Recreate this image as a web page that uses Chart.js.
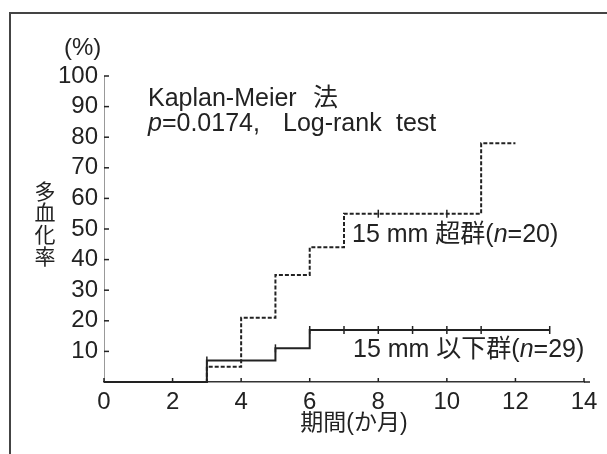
<!DOCTYPE html>
<html>
<head>
<meta charset="utf-8">
<script src="https://cdn.jsdelivr.net/npm/chart.js@4.4.1/dist/chart.umd.min.js"></script>
<style>
  html, body { margin: 0; padding: 0; background: #fff; }
  #wrap { width: 607px; height: 454px; }
</style>
</head>
<body>
<div id="wrap"><canvas id="kmChart" width="607" height="454"></canvas></div>
<script>
// 15 mm 超群 (n=20)
var upperMonths = [0, 3, 4, 5, 6, 7, 11, 12];
var upperRates  = [0, 5, 21, 35, 44, 55, 78, 78];
var upperCensorMonths = [8, 10];
var upperCensorRates  = [55, 55];

// 15 mm 以下群 (n=29)
var lowerMonths = [0, 3, 5, 6, 13];
var lowerRates  = [0, 7, 11, 17, 17];
var lowerCensorMonths = [3, 5, 6, 7, 8, 9, 10, 11, 13];
var lowerCensorRates  = [7, 11, 17, 17, 17, 17, 17, 17, 17];

// 目盛り
var xTicks = [0, 2, 4, 6, 8, 10, 12, 14];
var yTicks = [0, 10, 20, 30, 40, 50, 60, 70, 80, 90, 100];

var FONT = '"Liberation Sans", "Noto Sans CJK JP", sans-serif';
var INK = '#222';

function toPoints(xs, ys) {
    return xs.map(function (x, i) { return { x: x, y: ys[i] }; });
}

// テキストを斜体まじりで描く
function drawRuns(ctx, x, y, runs, size) {
    runs.forEach(function (r) {
        if (r.length > 2) x = r[2];
        ctx.font = (r[1] ? 'italic ' : '') + size + 'px ' + FONT;
        ctx.fillText(r[0], x, y);
        x += ctx.measureText(r[0]).width;
    });
}

var decorations = {
    id: 'decorations',
    beforeDraw: function (chart) {
        var ctx = chart.ctx;
        ctx.save();
        ctx.fillStyle = '#fff';
        ctx.fillRect(0, 0, chart.width, chart.height);
        // 枠
        ctx.strokeStyle = '#444';
        ctx.lineWidth = 2;
        ctx.beginPath();
        ctx.moveTo(10, chart.height);
        ctx.lineTo(10, 13);
        ctx.lineTo(chart.width, 13);
        ctx.stroke();
        ctx.restore();
    },
    afterDraw: function (chart) {
        var ctx = chart.ctx;
        var xs = chart.scales.x, ys = chart.scales.y;
        var area = chart.chartArea;
        ctx.save();
        ctx.strokeStyle = INK;
        ctx.lineWidth = 1.5;
        // x軸を少し右へ延ばす
        ctx.beginPath();
        ctx.moveTo(area.right, area.bottom);
        ctx.lineTo(area.right + 6, area.bottom);
        ctx.stroke();
        // 内向きの目盛り線
        xTicks.forEach(function (v) {
            var px = xs.getPixelForValue(v);
            ctx.beginPath();
            ctx.moveTo(px, area.bottom);
            ctx.lineTo(px, area.bottom - 4);
            ctx.stroke();
        });
        yTicks.forEach(function (v) {
            if (v === 0) return;
            var py = ys.getPixelForValue(v);
            ctx.beginPath();
            ctx.moveTo(area.left, py);
            ctx.lineTo(area.left + 5, py);
            ctx.stroke();
        });

        ctx.fillStyle = INK;
        ctx.textAlign = 'left';
        ctx.textBaseline = 'alphabetic';
        ctx.font = '24px ' + FONT;
        ctx.fillText('(%)', 64, 55);

        drawRuns(ctx, 148, 106, [['Kaplan-Meier', false], ['法', false, 313]], 25);
        drawRuns(ctx, 148, 131, [['p', true], ['=0.0174,', false], ['Log-rank', false, 283], ['test', false, 396]], 25);
        drawRuns(ctx, 352, 242, [['15 mm 超群(', false], ['n', true], ['=20)', false]], 25);
        drawRuns(ctx, 353, 357, [['15 mm 以下群(', false], ['n', true], ['=29)', false]], 25);

        // 軸タイトル
        ctx.textAlign = 'center';
        ctx.textBaseline = 'middle';
        ctx.font = '21px ' + FONT;
        ['多', '血', '化', '率'].forEach(function (ch, i) {
            ctx.fillText(ch, 45, 193 + i * 21.7);
        });
        ctx.font = '23px ' + FONT;
        ctx.fillText('期間(か月)', 354, 424);
        ctx.restore();
    }
};

var kmData = {
    datasets: [
        {
            label: '15 mm 超群',
            data: toPoints(upperMonths, upperRates),
            stepped: true,
            borderColor: INK,
            borderWidth: 2,
            borderDash: [4, 2],
            pointRadius: 0,
            fill: false,
            clip: false
        },
        {
            label: '15 mm 以下群',
            data: toPoints(lowerMonths, lowerRates),
            stepped: true,
            borderColor: INK,
            borderWidth: 2,
            pointRadius: 0,
            fill: false,
            clip: false
        },
        {
            label: '打ち切り(超群)',
            data: toPoints(upperCensorMonths, upperCensorRates),
            showLine: false,
            pointStyle: 'line',
            rotation: 90,
            pointRadius: 4,
            pointBorderWidth: 1.5,
            pointBorderColor: INK
        },
        {
            label: '打ち切り(以下群)',
            data: toPoints(lowerCensorMonths, lowerCensorRates),
            showLine: false,
            pointStyle: 'line',
            rotation: 90,
            pointRadius: 4,
            pointBorderWidth: 1.5,
            pointBorderColor: INK
        }
    ]
};

var kmOptions = {
    responsive: false,
    animation: false,
    devicePixelRatio: 1,
    layout: { padding: { left: 0, right: 23, top: 76, bottom: 0 } },
    plugins: { legend: { display: false }, tooltip: { enabled: false } },
    scales: {
        x: {
            type: 'linear',
            min: 0,
            max: 14,
            afterBuildTicks: function (s) { s.ticks = xTicks.map(function (v) { return { value: v }; }); },
            afterFit: function (s) { s.height = 72; },
            grid: { display: false, drawTicks: false },
            border: { display: true, color: '#333', width: 1.5 },
            ticks: { padding: 6, color: INK, maxRotation: 0, autoSkip: false, font: { family: FONT, size: 24 } }
        },
        y: {
            min: 0,
            max: 100,
            afterBuildTicks: function (s) { s.ticks = yTicks.map(function (v) { return { value: v }; }); },
            afterFit: function (s) { s.width = 104; },
            grid: { display: false, drawTicks: false },
            border: { display: true, color: '#999', width: 1, dash: [2, 2] },
            ticks: {
                padding: 6,
                color: INK,
                autoSkip: false,
                font: { family: FONT, size: 24 },
                callback: function (v) { return v === 0 ? '' : v; }
            }
        }
    }
};

var ctx = document.getElementById('kmChart').getContext('2d');
new Chart(ctx, { type: 'line', data: kmData, options: kmOptions, plugins: [decorations] });
</script>
</body>
</html>
